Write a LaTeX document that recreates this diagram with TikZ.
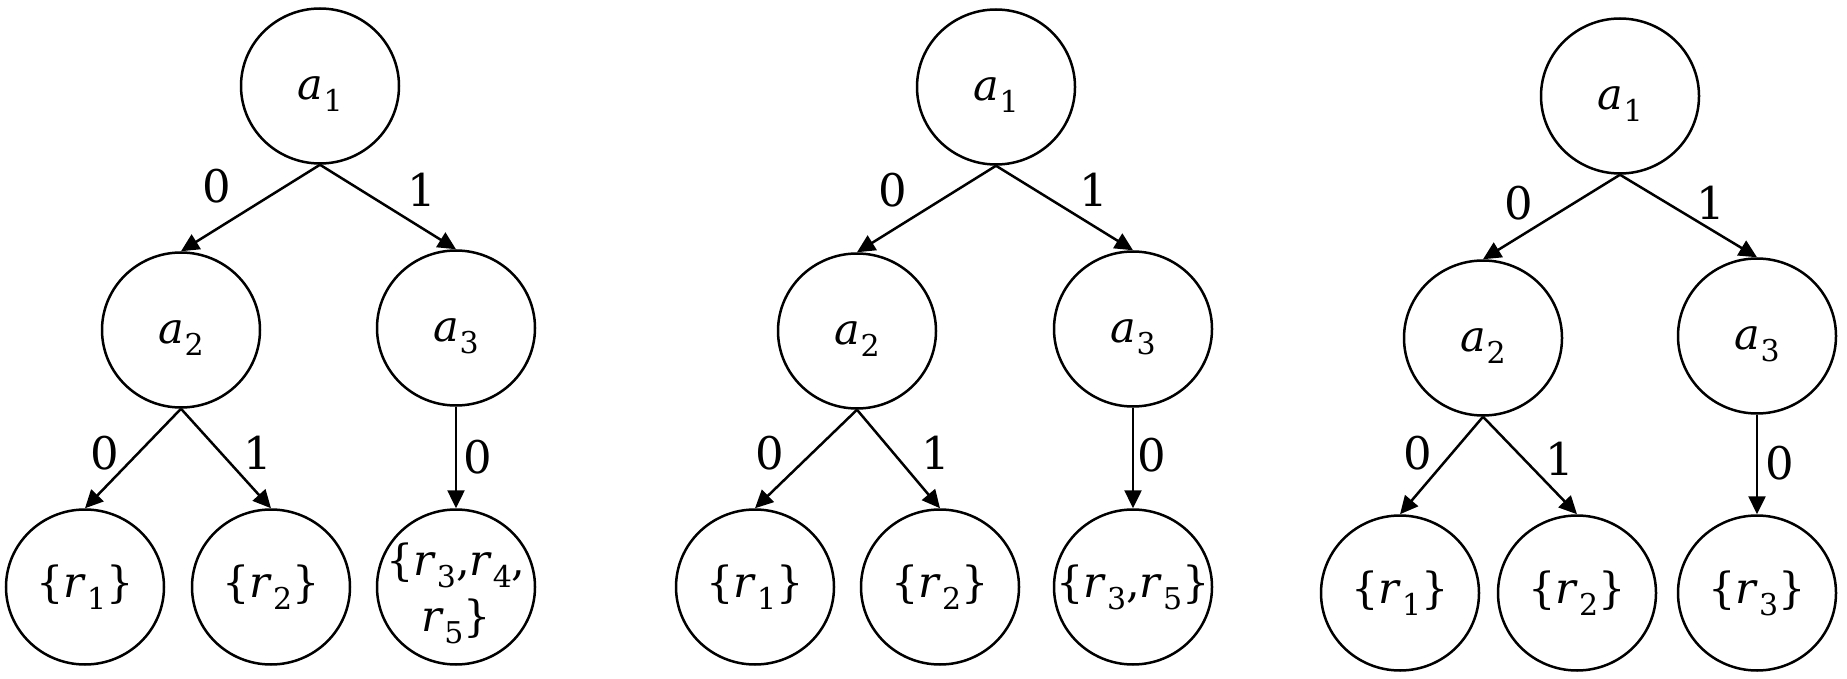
\documentclass[tikz,border=0pt]{standalone}
\usepackage{fontspec}
\setmainfont{DejaVu Serif}
\usetikzlibrary{shapes.geometric,arrows.meta}
\newcommand{\vsub}[2]{\textit{#1}\kern0.5pt\raisebox{-12pt}{\fontsize{30}{34}\selectfont #2}}
\begin{document}
\begin{tikzpicture}[x=1pt,y=-1pt,
  font=\fontsize{43}{56}\selectfont,
  bub/.style={draw, ellipse, line width=2.5pt, minimum width=158pt, minimum height=155pt, inner sep=0pt},
  arr/.style={line width=2.5pt, -{Triangle[length=18pt,width=17pt]}},
  lab/.style={inner sep=0pt, font=\fontsize{45}{50}\selectfont},
  at/.style={label={[yshift=-8pt]center:{#1}}},
  rt/.style={label={center:{#1}}}
]
\useasboundingbox (0,0) rectangle (1847,679);

% ---------- tree 1 ----------
\node[bub, at={\vsub{a}{1}}] (p1a1) at (320,86) {};
\node[bub, at={\vsub{a}{2}}] (p1a2) at (181,330) {};
\node[bub, at={\vsub{a}{3}}] (p1a3) at (456,328) {};
\node[bub, rt={\{\vsub{r}{1}\}}] (p1r1) at (85,587) {};
\node[bub, rt={\{\vsub{r}{2}\}}] (p1r2) at (271,587) {};
\node[bub, label={[align=center,yshift=-6pt]center:{\{\vsub{r}{3},\vsub{r}{4},\\\vsub{r}{5}\}}}] (p1r3) at (456,587) {};
\draw[arr] (p1a1.south) -- (p1a2.north);
\draw[arr] (p1a1.south) -- (p1a3.north);
\draw[arr] (p1a2.south) -- (p1r1.north);
\draw[arr] (p1a2.south) -- (p1r2.north);
\draw[arr] (p1a3.south) -- (p1r3.north);
\node[lab] (p1l1) at (217,186) {0};
\node[lab] (p1l2) at (422,190) {1};
\node[lab] (p1l3) at (105,453) {0};
\node[lab] (p1l4) at (258,453) {1};
\node[lab] (p1l5) at (478,457) {0};

% ---------- tree 2 ----------
\node[bub, at={\vsub{a}{1}}] (p2a1) at (996,87) {};
\node[bub, at={\vsub{a}{2}}] (p2a2) at (857,331) {};
\node[bub, at={\vsub{a}{3}}] (p2a3) at (1133,329) {};
\node[bub, rt={\{\vsub{r}{1}\}}] (p2r1) at (755,587) {};
\node[bub, rt={\{\vsub{r}{2}\}}] (p2r2) at (940,587) {};
\node[bub, rt={\{\vsub{r}{3},\vsub{r}{5}\}}] (p2r3) at (1133,587) {};
\draw[arr] (p2a1.south) -- (p2a2.north);
\draw[arr] (p2a1.south) -- (p2a3.north);
\draw[arr] (p2a2.south) -- (p2r1.north);
\draw[arr] (p2a2.south) -- (p2r2.north);
\draw[arr] (p2a3.south) -- (p2r3.north);
\node[lab] (p2l1) at (893,190) {0};
\node[lab] (p2l2) at (1094,190) {1};
\node[lab] (p2l3) at (770,453) {0};
\node[lab] (p2l4) at (936,453) {1};
\node[lab] (p2l5) at (1152,455) {0};

% ---------- tree 3 ----------
\node[bub, at={\vsub{a}{1}}] (p3a1) at (1620,96) {};
\node[bub, at={\vsub{a}{2}}] (p3a2) at (1483,338) {};
\node[bub, at={\vsub{a}{3}}] (p3a3) at (1757,336) {};
\node[bub, rt={\{\vsub{r}{1}\}}] (p3r1) at (1400,593) {};
\node[bub, rt={\{\vsub{r}{2}\}}] (p3r2) at (1577,593) {};
\node[bub, rt={\{\vsub{r}{3}\}}] (p3r3) at (1757,593) {};
\draw[arr] (p3a1.south) -- (p3a2.north);
\draw[arr] (p3a1.south) -- (p3a3.north);
\draw[arr] (p3a2.south) -- (p3r1.north);
\draw[arr] (p3a2.south) -- (p3r2.north);
\draw[arr] (p3a3.south) -- (p3r3.north);
\node[lab] (p3l1) at (1519,203) {0};
\node[lab] (p3l2) at (1711,203) {1};
\node[lab] (p3l3) at (1418,453) {0};
\node[lab] (p3l4) at (1560,459) {1};
\node[lab] (p3l5) at (1780,463) {0};
\end{tikzpicture}
\end{document}
